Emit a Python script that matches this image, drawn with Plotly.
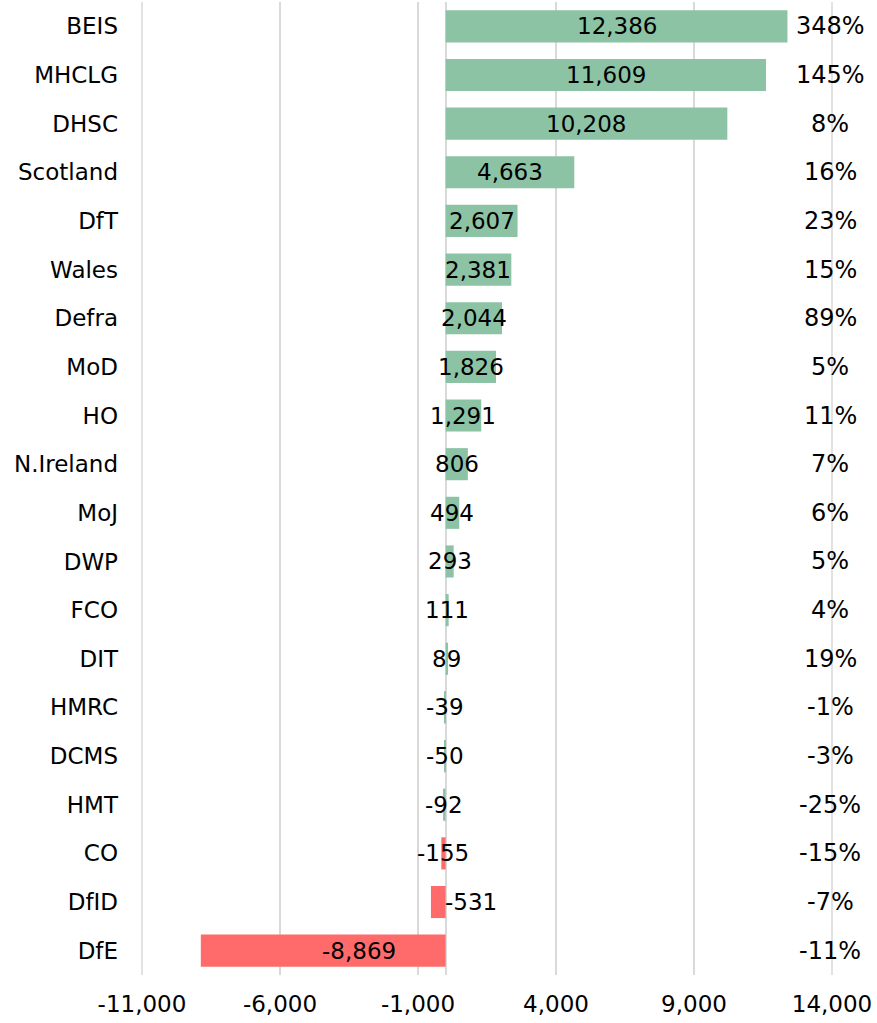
import plotly.graph_objects as go

departments = ["BEIS", "MHCLG", "DHSC", "Scotland", "DfT", "Wales", "Defra", "MoD", "HO",
               "N.Ireland", "MoJ", "DWP", "FCO", "DIT", "HMRC", "DCMS", "HMT", "CO", "DfID", "DfE"]
change = [12386, 11609, 10208, 4663, 2607, 2381, 2044, 1826, 1291,
          806, 494, 293, 111, 89, -39, -50, -92, -155, -531, -8869]
pct_change = ["348%", "145%", "8%", "16%", "23%", "15%", "89%", "5%", "11%",
              "7%", "6%", "5%", "4%", "19%", "-1%", "-3%", "-25%", "-15%", "-7%", "-11%"]
tick_vals = [-11000, -6000, -1000, 4000, 9000, 14000]
tick_text = ["-11,000", "-6,000", "-1,000", "4,000", "9,000", "14,000"]

GREEN = "#8CC3A5"
RED = "#FF6B6B"
GRID = "#D9D9D9"
FONT = "DejaVu Sans"
label_xshift = {"DfID": 33, "DfE": 36}

colors = [RED if v < -100 else GREEN for v in change]

fig = go.Figure()
fig.add_trace(go.Bar(
    y=departments, x=change, orientation="h",
    marker=dict(color=colors, line=dict(width=0)),
    hoverinfo="x+y",
))

for d, v, p in zip(departments, change, pct_change):
    fig.add_annotation(
        x=v / 2, y=d, text=f"{v:,}", showarrow=False,
        xshift=label_xshift.get(d, 0),
        font=dict(family=FONT, size=23, color="#000000"),
    )
    fig.add_annotation(
        x=tick_vals[-1], y=d, text=p, showarrow=False, xshift=-2,
        font=dict(family=FONT, size=24, color="#000000"),
    )

# gridlines at the two ends of the axis (Plotly skips grid lines on the edges)
for xp in (0, 1):
    fig.add_shape(type="line", xref="paper", yref="paper", x0=xp, x1=xp, y0=0, y1=1,
                  line=dict(color=GRID, width=1.5), layer="below")

fig.update_layout(
    width=877, height=1023,
    margin=dict(l=142, r=45, t=2, b=48, autoexpand=False),
    plot_bgcolor="white", paper_bgcolor="white",
    bargap=0.34, showlegend=False,
    font=dict(family=FONT, size=23, color="#000000"),
)
fig.update_xaxes(
    range=[tick_vals[0], tick_vals[-1]], tickvals=tick_vals, ticktext=tick_text,
    showgrid=True, gridcolor=GRID, gridwidth=1.5,
    zeroline=True, zerolinecolor=GRID, zerolinewidth=1.5,
    showline=False, ticks="", tickfont=dict(family=FONT, size=23),
    ticklabelstandoff=13, automargin=False,
)
fig.update_yaxes(
    range=[len(departments) - 0.5, -0.5], showgrid=False, showline=False, ticks="",
    tickfont=dict(family=FONT, size=23), ticklabelstandoff=23, automargin=False,
)

fig.write_html(
    "out.html",
    config={"displayModeBar": False},
    post_script="document.body.style.margin='0';document.body.style.overflow='hidden';",
)
